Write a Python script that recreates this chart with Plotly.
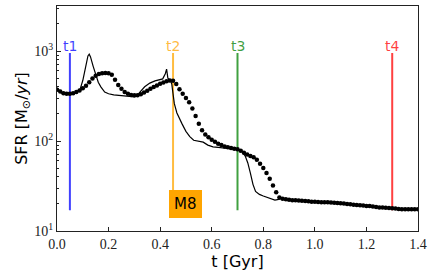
import math
import plotly.graph_objects as go

# ---- data ----
t_dots = [round(k * 0.0125, 4) for k in range(113)]
sfr_dots = [370, 355, 340, 335, 335, 340, 350, 365, 385, 410,
            450, 495, 530, 555, 565, 568, 565, 545, 480, 420,
            380, 350, 335, 325, 322, 322, 330, 345, 362, 380,
            398, 415, 432, 448, 460, 470, 468, 430, 375, 335,
            300, 270, 230, 190, 155, 132, 118, 110, 103, 98,
            93, 90, 87, 85, 83.5, 82, 81, 78, 74, 71,
            68, 66, 62, 56, 50, 44, 38, 32, 27, 23.5,
            22.8, 22.5, 22.2, 22.0, 21.9, 21.8, 21.7, 21.5, 21.4, 21.2,
            21.1, 21.0, 20.9, 20.8, 20.8, 20.7, 20.6, 20.5, 20.3, 20.2,
            20.0, 19.8, 19.6, 19.4, 19.3, 19.2, 19.0, 18.9, 18.7, 18.5,
            18.3, 18.2, 18.1, 18.0, 17.9, 17.8, 17.6, 17.5, 17.5, 17.4,
            17.4, 17.4, 17.4]

t_line = [0.00, 0.01, 0.02, 0.04, 0.06, 0.08, 0.09, 0.10, 0.11, 0.12,
          0.125, 0.13, 0.14, 0.15, 0.16, 0.17, 0.185, 0.20, 0.22, 0.25,
          0.28, 0.30, 0.31, 0.32, 0.34, 0.36, 0.38, 0.40, 0.41, 0.42,
          0.425, 0.43, 0.44, 0.445, 0.45, 0.455, 0.465, 0.475, 0.485, 0.50,
          0.515, 0.53, 0.55, 0.567, 0.585, 0.605, 0.625, 0.645, 0.67, 0.70,
          0.715, 0.73, 0.74, 0.75, 0.76, 0.77, 0.785, 0.80, 0.82, 0.845,
          0.86, 0.87, 0.90, 1.00, 1.10, 1.20, 1.30, 1.40]
sfr_line = [390, 360, 340, 330, 335, 350, 380, 470, 650, 880,
            920, 860, 680, 540, 450, 400, 350, 335, 325, 320,
            312, 310, 315, 345, 400, 440, 465, 480, 490, 560,
            630, 500, 470, 430, 330, 260, 205, 175, 155, 128,
            112, 102, 100, 97, 90, 86, 85, 83, 82, 81,
            78, 68, 57, 44, 33, 27.5, 25.5, 24.5, 23.5, 22,
            22.5, 23.0, 22.2, 21.1, 20.3, 19.0, 17.9, 17.4]

snap_names = ["t1", "t2", "t3", "t4"]
snap_times = [0.05, 0.45, 0.70, 1.30]
snap_colors = ["rgba(0,0,255,0.75)", "rgba(255,165,0,0.75)",
               "rgba(0,128,0,0.75)", "rgba(255,0,0,0.75)"]
snap_low = 17
snap_high = 950

x_ticks = [0.0, 0.2, 0.4, 0.6, 0.8, 1.0, 1.2, 1.4]
x_ticklabels = ["0.0", "0.2", "0.4", "0.6", "0.8", "1.0", "1.2", "1.4"]
y_ticks = [10, 100, 1000]
y_ticklabels = ["10<sup>1</sup>", "10<sup>2</sup>", "10<sup>3</sup>"]
y_minor = [20, 30, 40, 50, 60, 70, 80, 90,
           200, 300, 400, 500, 600, 700, 800, 900, 2000, 3000]

model_label = "M8"
model_pos = (0.5, 20)

fig = go.Figure()

for name, tt, col in zip(snap_names, snap_times, snap_colors):
    fig.add_trace(go.Scatter(x=[tt, tt], y=[snap_low, snap_high], mode="lines",
                             line=dict(color=col, width=2), showlegend=False,
                             hoverinfo="skip"))
    fig.add_annotation(x=tt, y=math.log10(snap_high), yref="y", xref="x", text=name,
                       showarrow=False, yanchor="bottom", xanchor="center",
                       yshift=-3,
                       font=dict(family="DejaVu Sans", size=14, color=col))

fig.add_trace(go.Scatter(x=t_line, y=sfr_line, mode="lines",
                         line=dict(color="black", width=1.2), showlegend=False))
fig.add_trace(go.Scatter(x=t_dots, y=sfr_dots, mode="markers",
                         marker=dict(color="black", size=4.5, line=dict(width=0)),
                         showlegend=False))

fig.add_annotation(x=model_pos[0], y=math.log10(model_pos[1]), text=model_label,
                   showarrow=False,
                   bgcolor="#ffa500", bordercolor="#ffa500", borderpad=4,
                   font=dict(family="DejaVu Sans", size=15, color="black"))

fig.update_xaxes(range=[0, 1.4], tickvals=x_ticks, ticktext=x_ticklabels,
                 ticks="inside", ticklen=4, tickcolor="#222",
                 showline=True, linecolor="#222", linewidth=1.2, mirror=True,
                 showgrid=False, zeroline=False,
                 tickfont=dict(family="Liberation Serif", size=14, color="#222"),
                 title=dict(text="t [Gyr]", standoff=4,
                            font=dict(family="DejaVu Sans", size=16, color="black")))
fig.update_yaxes(type="log", range=[1, 3.5], tickvals=y_ticks, ticktext=y_ticklabels,
                 ticks="inside", ticklen=4, tickcolor="#222",
                 minor=dict(ticks="inside", ticklen=2, tickvals=y_minor, tickcolor="#222"),
                 showline=True, linecolor="#222", linewidth=1.2, mirror=True,
                 showgrid=False, zeroline=False,
                 tickfont=dict(family="Liberation Serif", size=14, color="#222"),
                 title=dict(text="SFR [M<sub>⊙</sub>/<i>yr</i>]", standoff=2,
                            font=dict(family="DejaVu Sans", size=16, color="black")))

fig.update_layout(width=434, height=280, margin=dict(l=57, r=16, t=6, b=49),
                  plot_bgcolor="white", paper_bgcolor="white")

fig.write_html("out.html", config={"displayModeBar": False},
               post_script="document.body.style.margin='0';")
